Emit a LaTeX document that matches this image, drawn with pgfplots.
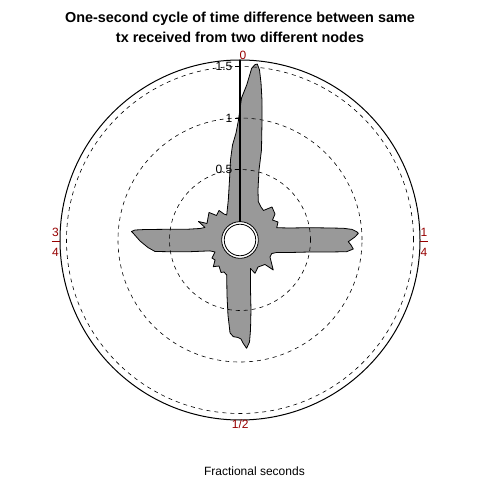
\documentclass[border=0pt]{standalone}
\usepackage{pgfplots}
\usepackage{pgfplotstable}
\pgfplotsset{compat=1.18}
\usepackage{fontspec}
\setmainfont{Liberation Sans}
\definecolor{lab}{RGB}{150,0,0}
\definecolor{fillg}{RGB}{153,153,153}

% fractional second t, density d
\pgfplotstableread{
t d
0.0017 1.194
0.0069 1.322
0.0108 1.486
0.0136 1.525
0.0156 1.532
0.0182 1.477
0.0212 1.353
0.0248 1.191
0.0289 1.000
0.0373 0.714
0.0422 0.520
0.0550 0.331
0.0709 0.228
0.0903 0.195
0.1069 0.182
0.1225 0.262
0.1483 0.239
0.1622 0.186
0.1798 0.224
0.1987 0.191
0.2125 0.315
0.2223 0.506
0.2289 0.697
0.2320 0.825
0.2350 0.908
0.2387 0.951
0.2411 0.966
0.2458 0.932
0.2525 0.867
0.2572 0.894
0.2626 0.919
0.2674 0.857
0.2711 0.697
0.2770 0.505
0.2890 0.316
0.3022 0.192
0.3142 0.150
0.3320 0.150
0.3667 0.250
0.3734 0.155
0.4064 0.131
0.4328 0.170
0.4439 0.110
0.4670 0.312
0.4752 0.503
0.4815 0.695
0.4852 0.810
0.4903 0.869
0.4954 0.816
0.4984 0.777
0.5033 0.762
0.5110 0.756
0.5170 0.723
0.5253 0.553
0.5370 0.364
0.5578 0.179
0.5738 0.163
0.5842 0.181
0.6080 0.140
0.6250 0.182
0.6425 0.126
0.6590 0.139
0.6790 0.085
0.6947 0.126
0.7134 0.314
0.7236 0.505
0.7286 0.648
0.7370 0.712
0.7484 0.786
0.7600 0.854
0.7625 0.872
0.7651 0.840
0.7675 0.744
0.7725 0.551
0.7816 0.343
0.7945 0.220
0.8047 0.177
0.8167 0.257
0.8239 0.174
0.8656 0.218
0.8784 0.145
0.9017 0.167
0.9122 0.112
0.9222 0.090
0.9547 0.220
0.9724 0.407
0.9812 0.598
0.9875 0.741
0.9941 0.855
0.9980 0.981
1.0017 1.194
}\dens

\begin{document}
\begin{tikzpicture}
\begin{axis}[width=480bp,height=480bp,scale only axis,hide axis,
  xmin=-2.33010,xmax=2.33010,ymin=-2.33010,ymax=2.33010,clip=false]
\path (rel axis cs:0,0) rectangle (rel axis cs:1,1);
\addplot[fill=fillg,draw=black,line width=0.8bp,line join=round]
  table[x expr={(0.1845+\thisrow{d})*sin(360*\thisrow{t})},
        y expr={(0.1845+\thisrow{d})*cos(360*\thisrow{t})}] {\dens};
% grid circles
\draw[black,line width=0.6bp,dash pattern=on 4bp off 4bp] (axis cs:0,0) circle[radius=0.6845];
\draw[black,line width=0.6bp,dash pattern=on 4bp off 4bp] (axis cs:0,0) circle[radius=1.1845];
\draw[black,line width=0.6bp,dash pattern=on 4bp off 4bp] (axis cs:0,0) circle[radius=1.6845];
\draw[black,line width=1bp] (axis cs:0,0) circle[radius=1.7476];
% inner rings
\draw[black,fill=white,line width=0.8bp] (axis cs:0,0) circle[radius=0.178];
\draw[black,line width=0.8bp] (axis cs:0,0) circle[radius=0.153];
% radial axis
\draw[black,line width=1.6bp] (axis cs:0,0.178) -- (axis cs:0,1.7476);
\draw[black,line width=0.8bp] (axis cs:0,0.6845) -- (axis cs:-0.0485,0.6845);
\draw[black,line width=0.8bp] (axis cs:0,1.1845) -- (axis cs:-0.0485,1.1845);
\draw[black,line width=0.8bp] (axis cs:0,1.6845) -- (axis cs:-0.0485,1.6845);
\node[anchor=east,inner sep=0pt,font=\fontsize{12bp}{14bp}\selectfont] at (axis cs:-0.072,0.6845) {0.5};
\node[anchor=east,inner sep=0pt,font=\fontsize{12bp}{14bp}\selectfont] at (axis cs:-0.072,1.1845) {1};
\node[anchor=east,inner sep=0pt,font=\fontsize{12bp}{14bp}\selectfont] at (axis cs:-0.072,1.6845) {1.5};
% circular tick labels
\draw[lab,line width=0.8bp] (axis cs:1.748,-0.0165) -- (axis cs:1.826,-0.0165);
\draw[lab,line width=0.8bp] (axis cs:-1.828,-0.0165) -- (axis cs:-1.748,-0.0165);
\node[text=lab,inner sep=0pt,font=\fontsize{12bp}{14bp}\selectfont] at (axis cs:0.029,1.791) {0};
\node[text=lab,inner sep=0pt,font=\fontsize{12bp}{14bp}\selectfont] at (axis cs:1.786,0.075) {1};
\node[text=lab,inner sep=0pt,font=\fontsize{12bp}{14bp}\selectfont] at (axis cs:1.786,-0.117) {4};
\node[text=lab,inner sep=0pt,font=\fontsize{12bp}{14bp}\selectfont] at (axis cs:-1.791,0.075) {3};
\node[text=lab,inner sep=0pt,font=\fontsize{12bp}{14bp}\selectfont] at (axis cs:-1.791,-0.117) {4};
\node[text=lab,inner sep=0pt,font=\fontsize{12bp}{14bp}\selectfont] at (axis cs:0.003,-1.793) {1/2};
% titles
\node[anchor=base,inner sep=0pt,font=\fontsize{14.4bp}{17bp}\selectfont\bfseries] at (axis cs:0,2.107) {One-second cycle of time difference between same};
\node[anchor=base,inner sep=0pt,font=\fontsize{14.4bp}{17bp}\selectfont\bfseries] at (axis cs:0,1.913) {tx received from two different nodes};
\node[anchor=base,inner sep=0pt,font=\fontsize{12bp}{14bp}\selectfont] at (axis cs:0.14,-2.284) {Fractional seconds};
\end{axis}
\end{tikzpicture}
\end{document}
